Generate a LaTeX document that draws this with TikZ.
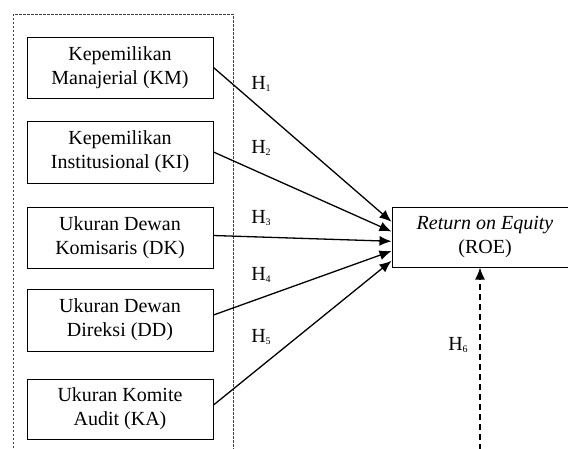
\documentclass[tikz,border=0pt]{standalone}
\usepackage{fontspec}
\setmainfont{Liberation Serif}
\usetikzlibrary{arrows.meta,calc}
\newcommand{\hsub}[1]{H\raisebox{-0.25ex}{\fontsize{10}{10}\selectfont #1}}
\begin{document}
\begin{tikzpicture}[x=1pt,y=-1pt,
  var/.style={draw,line width=1pt,minimum width=186pt,inner sep=0pt,align=center,font=\fontsize{20}{24}\selectfont},
  hyp/.style={font=\fontsize{20}{24}\selectfont,inner sep=0pt},
  grp/.style={draw,line width=1pt,dash pattern=on 2.5pt off 1.5pt,black!75},
  arr/.style={line width=1.3pt,-{Latex[length=12pt,width=10pt]}},
  darr/.style={line width=1.4pt,dash pattern=on 6pt off 4pt,-{Latex[length=12pt,width=10pt]}}]
\clip (0,0) rectangle (568,448);
\draw[grp] (13,460) -- (13,14) -- (233,14) -- (233,460);
\node[var,minimum height=61pt] (km) at (120,67.5) {Kepemilikan\\Manajerial (KM)};
\node[var,minimum height=62pt] (ki) at (120,152) {Kepemilikan\\Institusional (KI)};
\node[var,minimum height=61pt] (dk) at (120,237.5) {Ukuran Dewan\\Komisaris (DK)};
\node[var,minimum height=62pt] (dd) at (120,320) {Ukuran Dewan\\Direksi (DD)};
\node[var,minimum height=60pt] (ka) at (120,409) {Ukuran Komite\\Audit (KA)};
\node[var,minimum height=60pt] (roe) at (485,237) {\textit{Return on Equity}\\(ROE)};
\draw[arr] (km.east) -- ($(roe.north west)!0.25!(roe.south west)$);
\draw[arr] (ki.east) -- ($(roe.north west)!0.41!(roe.south west)$);
\draw[arr] ([yshift=2pt]dk.east) -- ($(roe.north west)!0.57!(roe.south west)$);
\draw[arr] ([yshift=5pt]dd.east) -- ($(roe.north west)!0.73!(roe.south west)$);
\draw[arr] ([yshift=4pt]ka.east) -- ($(roe.north west)!0.89!(roe.south west)$);
\coordinate (h6s) at (480,460);
\draw[darr] (h6s) -- (h6s |- roe.south);
\node[hyp] (h1) at (261,84) {\hsub{1}};
\node[hyp] (h2) at (261,148) {\hsub{2}};
\node[hyp] (h3) at (261,218) {\hsub{3}};
\node[hyp] (h4) at (261,275) {\hsub{4}};
\node[hyp] (h5) at (261,337) {\hsub{5}};
\node[hyp] (h6) at (458,345) {\hsub{6}};
\end{tikzpicture}
\end{document}
